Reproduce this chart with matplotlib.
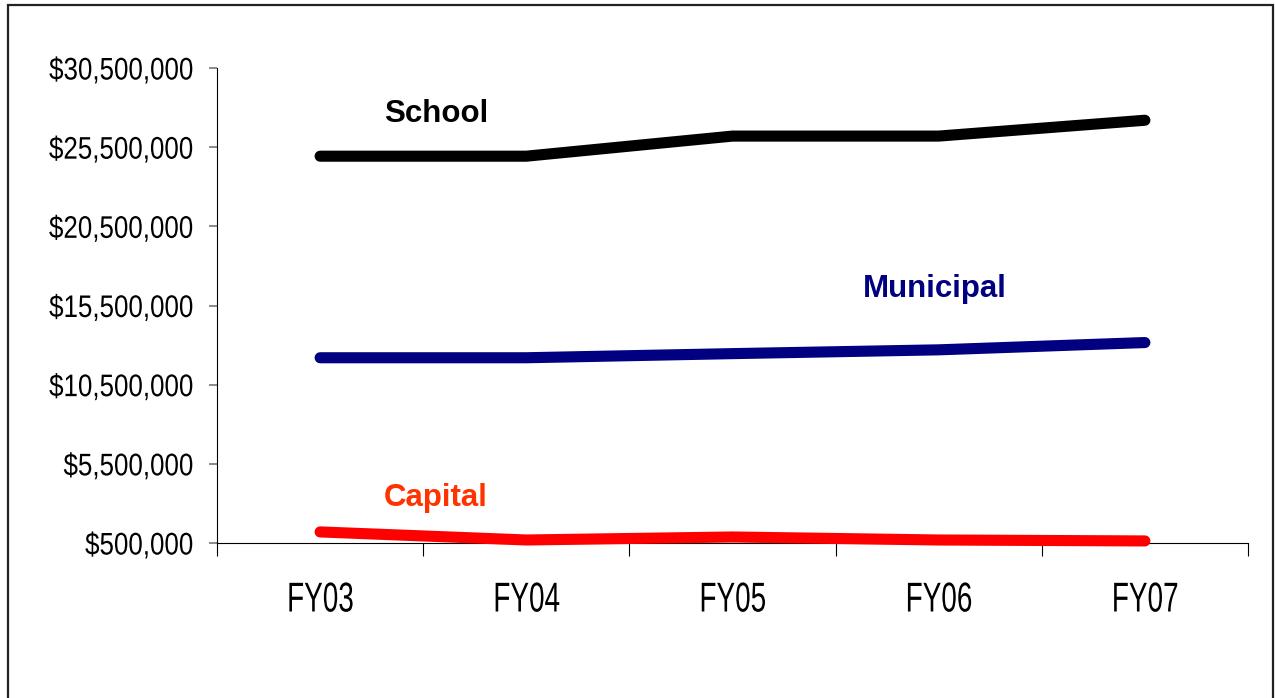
"""Operating budget trend by fund, FY03-FY07."""
import matplotlib
matplotlib.use("Agg")
import matplotlib.pyplot as plt
from matplotlib.patches import Rectangle
from matplotlib.patheffects import AbstractPathEffect
from matplotlib.transforms import Affine2D
from matplotlib.ticker import FuncFormatter, FixedLocator

years = ["FY03", "FY04", "FY05", "FY06", "FY07"]
school = [24930000, 24930000, 26200000, 26200000, 27200000]
municipal = [12200000, 12200000, 12460000, 12700000, 13160000]
capital = [1200000, 690000, 880000, 690000, 630000]

SANS = ["Liberation Sans", "DejaVu Sans"]


class Squeeze(AbstractPathEffect):
    """Draw text glyphs compressed horizontally (narrow-face look)."""

    def __init__(self, sx, align="center"):
        super().__init__()
        self.sx = sx
        self.align = align

    def draw_path(self, renderer, gc, tpath, affine, rgbFace=None):
        bb = tpath.get_extents(affine)
        px = {"left": bb.x0, "center": (bb.x0 + bb.x1) / 2,
              "right": bb.x1}[self.align]
        sq = Affine2D().translate(-px, 0).scale(self.sx, 1).translate(px, 0)
        renderer.draw_path(gc, tpath, affine + sq, rgbFace)


fig = plt.figure(figsize=(12.75, 6.98), dpi=100)
fig.patch.set_facecolor("white")
ax = fig.add_axes([217 / 1275, 1 - 543 / 698, (1248 - 217) / 1275, (543 - 68) / 698])

x = list(range(len(years)))
for vals, col in ((school, "black"), (municipal, "#000080"), (capital, "#ff0000")):
    ax.plot(x, vals, color=col, lw=8, solid_capstyle="round",
            solid_joinstyle="round", clip_on=False, zorder=3)

# series labels placed next to their lines
ax.text(0.31, 27590000, "School", color="black", fontsize=22.5,
        fontweight="bold", family=SANS, va="center", ha="left")
ax.text(2.63, 16550000, "Municipal", color="#000080", fontsize=22.5,
        fontweight="bold", family=SANS, va="center", ha="left")
ax.text(0.31, 3350000, "Capital", color="#ff3300", fontsize=22.5,
        fontweight="bold", family=SANS, va="center", ha="left")

ax.set_xlim(-0.5, len(years) - 0.5)
ax.set_ylim(500000, 30500000)
ax.set_yticks(range(500000, 30500001, 5000000))
ax.yaxis.set_major_formatter(FuncFormatter(lambda v, p: f"${v:,.0f}"))

# category labels centred, tick marks between categories
ax.set_xticks(x)
ax.set_xticklabels(years)
ax.xaxis.set_minor_locator(FixedLocator([i - 0.5 for i in range(len(years) + 1)]))
ax.tick_params(axis="x", which="major", length=0, pad=27)
ax.tick_params(axis="x", which="minor", length=9, width=0.8, direction="out",
               color="black")
ax.tick_params(axis="y", length=6, width=1.2, color="#777777", pad=11)

for lab in ax.get_xticklabels():
    lab.set_family(SANS)
    lab.set_fontsize(30)
    lab.set_path_effects([Squeeze(0.67, "center")])
for lab in ax.get_yticklabels():
    lab.set_family(SANS)
    lab.set_fontsize(22.5)
    lab.set_path_effects([Squeeze(0.83, "right")])

for side in ("top", "right"):
    ax.spines[side].set_visible(False)
for side in ("left", "bottom"):
    ax.spines[side].set_linewidth(0.8)
    ax.spines[side].set_color("black")

# outer frame around the whole chart
fig.patches.append(Rectangle((8 / 1275, -0.02), (1273 - 8) / 1275, 1.02 - 5 / 698,
                             transform=fig.transFigure, fill=False,
                             ec="#222222", lw=1.6))

fig.savefig("out.png", dpi=100, facecolor="white")
